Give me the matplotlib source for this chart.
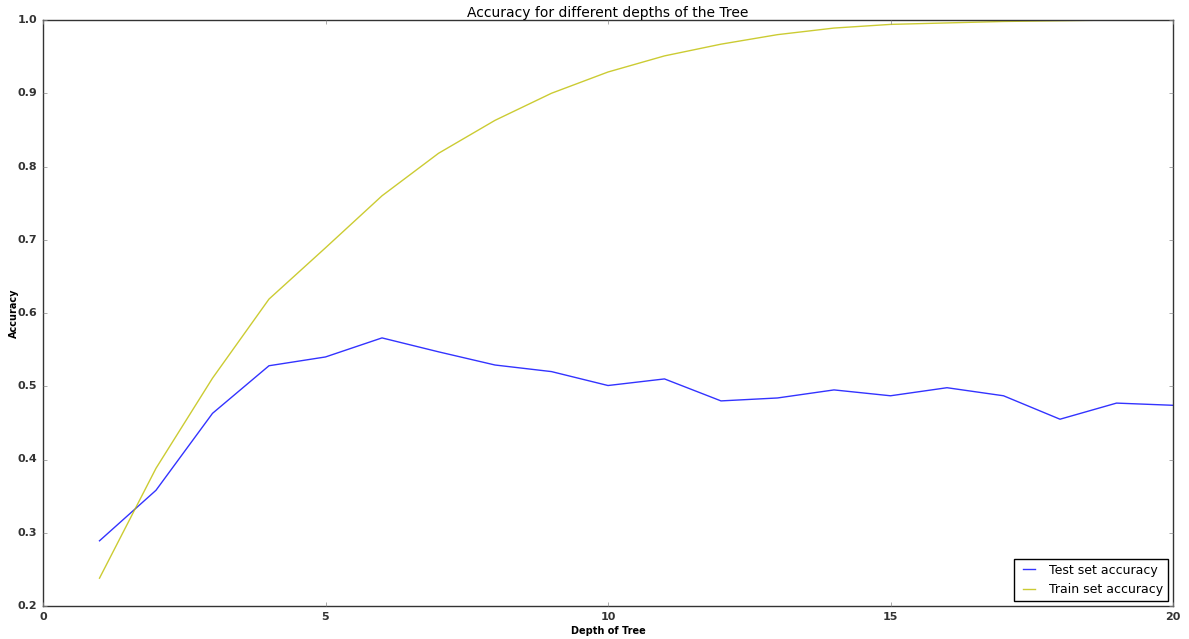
import matplotlib
matplotlib.use('Agg')
import matplotlib.pyplot as plt

depths = list(range(1, 21))
test_acc = [0.289, 0.358, 0.463, 0.528, 0.540, 0.566, 0.547, 0.529, 0.520, 0.501,
            0.510, 0.480, 0.484, 0.495, 0.487, 0.498, 0.487, 0.455, 0.477, 0.474]
train_acc = [0.238, 0.388, 0.511, 0.619, 0.689, 0.760, 0.818, 0.863, 0.900, 0.929,
             0.951, 0.967, 0.980, 0.989, 0.994, 0.996, 0.998, 0.999, 1.0, 1.0]

plt.style.use('classic')
fig = plt.figure(figsize=(11.89, 6.39), dpi=100)
ax = fig.add_axes([43 / 1189, 1 - 606 / 639, (1173 - 43) / 1189, (606 - 20) / 639])

ax.plot(depths, test_acc, color='b', lw=1, alpha=0.8, label='Test set accuracy')
ax.plot(depths, train_acc, color='y', lw=1, alpha=0.8, label='Train set accuracy')

ax.set_xlim(0, 20)
ax.set_ylim(0.2, 1.0)
ax.set_xticks([0, 5, 10, 15, 20])
ax.set_title('Accuracy for different depths of the Tree', fontsize=10, pad=2)
ax.set_xlabel('Depth of Tree', fontsize=7, fontweight='bold')
ax.set_ylabel('Accuracy', fontsize=7, fontweight='bold')
ax.yaxis.set_label_coords(-0.021, 0.5)
ax.xaxis.set_label_coords(0.5, -0.034)
ax.tick_params(length=3, color='#888888')
for lab in ax.get_xticklabels() + ax.get_yticklabels():
    lab.set_fontsize(8)
    lab.set_fontweight('bold')
    lab.set_color('#333333')
for s in ax.spines.values():
    s.set_color('#333333')
ax.legend(loc='lower right', fontsize=9, handlelength=1.6, borderaxespad=0.4)

fig.savefig('out.png', dpi=100)
